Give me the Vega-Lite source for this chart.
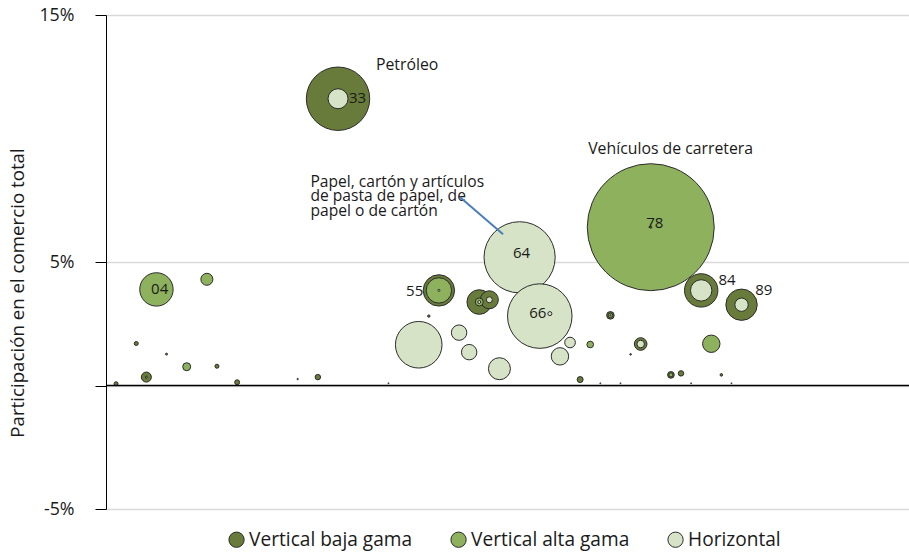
{
  "$schema": "https://vega.github.io/schema/vega-lite/v6.json",
  "width": 803,
  "height": 494,
  "autosize": "none",
  "padding": {"left": 106, "top": 15, "right": 0, "bottom": 45},
  "background": "white",
  "config": {"font": "Open Sans", "view": {"stroke": null}},
  "datasets": {
    "burbujas": [
      {"sector": "00", "tipo": "Vertical baja gama", "orden": 1, "participacion": 0.07, "peso": 0.098},
      {"sector": "02", "tipo": "Vertical baja gama", "orden": 3, "participacion": 1.70, "peso": 0.098},
      {"sector": "03", "tipo": "Vertical baja gama", "orden": 4, "participacion": 0.34, "peso": 0.61},
      {"sector": "03", "tipo": "Vertical alta gama", "orden": 4, "participacion": 0.34, "peso": 0.024},
      {"sector": "04", "tipo": "Vertical alta gama", "orden": 5, "participacion": 3.89, "peso": 6.8},
      {"sector": "05", "tipo": "Vertical baja gama", "orden": 6, "participacion": 1.27, "peso": 0.024},
      {"sector": "07", "tipo": "Vertical alta gama", "orden": 8, "participacion": 0.76, "peso": 0.39},
      {"sector": "09", "tipo": "Vertical alta gama", "orden": 10, "participacion": 4.30, "peso": 0.88},
      {"sector": "11", "tipo": "Vertical baja gama", "orden": 11, "participacion": 0.78, "peso": 0.098},
      {"sector": "21", "tipo": "Vertical baja gama", "orden": 13, "participacion": 0.13, "peso": 0.15},
      {"sector": "28", "tipo": "Vertical baja gama", "orden": 19, "participacion": 0.26, "peso": 0.012},
      {"sector": "32", "tipo": "Vertical baja gama", "orden": 21, "participacion": 0.34, "peso": 0.18},
      {"sector": "33", "tipo": "Vertical baja gama", "orden": 23, "participacion": 11.61, "peso": 24.5},
      {"sector": "33", "tipo": "Horizontal", "orden": 23, "participacion": 11.61, "peso": 2.44},
      {"sector": "43", "tipo": "Vertical baja gama", "orden": 28, "participacion": 0.09, "peso": 0.006},
      {"sector": "53", "tipo": "Horizontal", "orden": 31, "participacion": 1.65, "peso": 13.24},
      {"sector": "54", "tipo": "Vertical baja gama", "orden": 32, "participacion": 2.81, "peso": 0.035},
      {"sector": "55", "tipo": "Vertical baja gama", "orden": 33, "participacion": 3.85, "peso": 6.0},
      {"sector": "55", "tipo": "Vertical alta gama", "orden": 33, "participacion": 3.85, "peso": 3.93},
      {"sector": "55", "tipo": "Horizontal", "orden": 33, "participacion": 3.85, "peso": 0.024},
      {"sector": "57", "tipo": "Horizontal", "orden": 35, "participacion": 2.14, "peso": 1.45},
      {"sector": "58", "tipo": "Horizontal", "orden": 36, "participacion": 1.35, "peso": 1.45},
      {"sector": "59", "tipo": "Vertical baja gama", "orden": 37, "participacion": 3.38, "peso": 3.69},
      {"sector": "59", "tipo": "Vertical alta gama", "orden": 37, "participacion": 3.38, "peso": 0.39},
      {"sector": "59", "tipo": "Horizontal", "orden": 37, "participacion": 3.38, "peso": 0.055},
      {"sector": "61", "tipo": "Vertical baja gama", "orden": 38, "participacion": 3.47, "peso": 1.98},
      {"sector": "61", "tipo": "Horizontal", "orden": 38, "participacion": 3.47, "peso": 0.22},
      {"sector": "62", "tipo": "Horizontal", "orden": 39, "participacion": 0.68, "peso": 2.95},
      {"sector": "64", "tipo": "Horizontal", "orden": 41, "participacion": 5.19, "peso": 30.9},
      {"sector": "66", "tipo": "Horizontal", "orden": 43, "participacion": 2.81, "peso": 25.4},
      {"sector": "67", "tipo": "Horizontal", "orden": 44, "participacion": 2.91, "peso": 0.1},
      {"sector": "68", "tipo": "Horizontal", "orden": 45, "participacion": 1.18, "peso": 1.85},
      {"sector": "69", "tipo": "Horizontal", "orden": 46, "participacion": 1.74, "peso": 0.69},
      {"sector": "71", "tipo": "Vertical baja gama", "orden": 47, "participacion": 0.24, "peso": 0.22},
      {"sector": "72", "tipo": "Vertical alta gama", "orden": 48, "participacion": 1.66, "peso": 0.27},
      {"sector": "73", "tipo": "Vertical baja gama", "orden": 49, "participacion": 0.09, "peso": 0.006},
      {"sector": "74", "tipo": "Vertical baja gama", "orden": 50, "participacion": 2.84, "peso": 0.35},
      {"sector": "74", "tipo": "Vertical alta gama", "orden": 50, "participacion": 2.84, "peso": 0.13},
      {"sector": "74", "tipo": "Horizontal", "orden": 50, "participacion": 2.84, "peso": 0.01},
      {"sector": "75", "tipo": "Vertical baja gama", "orden": 51, "participacion": 0.09, "peso": 0.006},
      {"sector": "76", "tipo": "Vertical baja gama", "orden": 52, "participacion": 1.26, "peso": 0.016},
      {"sector": "77", "tipo": "Vertical baja gama", "orden": 53, "participacion": 1.68, "peso": 0.97},
      {"sector": "77", "tipo": "Horizontal", "orden": 53, "participacion": 1.68, "peso": 0.35},
      {"sector": "78", "tipo": "Vertical alta gama", "orden": 54, "participacion": 6.41, "peso": 98.3},
      {"sector": "78", "tipo": "Vertical baja gama", "orden": 54, "participacion": 6.41, "peso": 0.03},
      {"sector": "81", "tipo": "Vertical baja gama", "orden": 56, "participacion": 0.43, "peso": 0.27},
      {"sector": "81", "tipo": "Vertical alta gama", "orden": 56, "participacion": 0.43, "peso": 0.1},
      {"sector": "82", "tipo": "Vertical baja gama", "orden": 57, "participacion": 0.49, "peso": 0.18},
      {"sector": "83", "tipo": "Vertical baja gama", "orden": 58, "participacion": 0.09, "peso": 0.006},
      {"sector": "84", "tipo": "Vertical baja gama", "orden": 59, "participacion": 3.85, "peso": 6.8},
      {"sector": "84", "tipo": "Horizontal", "orden": 59, "participacion": 3.85, "peso": 2.79},
      {"sector": "85", "tipo": "Vertical alta gama", "orden": 60, "participacion": 1.69, "peso": 1.85},
      {"sector": "87", "tipo": "Vertical baja gama", "orden": 61, "participacion": 0.43, "peso": 0.04},
      {"sector": "88", "tipo": "Vertical baja gama", "orden": 62, "participacion": 0.09, "peso": 0.006},
      {"sector": "89", "tipo": "Vertical baja gama", "orden": 63, "participacion": 3.27, "peso": 6.0},
      {"sector": "89", "tipo": "Horizontal", "orden": 63, "participacion": 3.27, "peso": 1.09}
    ],
    "cero": [{"valor": 0}],
    "codigos": [
      {"texto": "04", "orden": 5.32, "participacion": 3.89},
      {"texto": "33", "orden": 24.93, "participacion": 11.63},
      {"texto": "55", "orden": 30.6, "participacion": 3.83},
      {"texto": "64", "orden": 41.2, "participacion": 5.35},
      {"texto": "66", "orden": 42.8, "participacion": 2.92},
      {"texto": "78", "orden": 54.4, "participacion": 6.58},
      {"texto": "84", "orden": 61.57, "participacion": 4.26},
      {"texto": "89", "orden": 65.21, "participacion": 3.88}
    ],
    "nombres": [
      {"texto": "Petróleo", "orden": 29.85, "participacion": 12.99},
      {"texto": "Vehículos de carretera", "orden": 55.97, "participacion": 9.59}
    ],
    "papel": [
      {"texto": "Papel, cartón y artículos\nde pasta de papel, de\npapel o de cartón", "orden": 20.27, "participacion": 8.24}
    ],
    "flecha": [
      {"orden": 35.07, "participacion": 7.63, "orden2": 39.36, "participacion2": 6.12}
    ]
  },
  "layer": [
    {
      "data": {"name": "burbujas"},
      "mark": {"type": "circle", "opacity": 1, "stroke": "#2b2b2b", "strokeWidth": 1},
      "encoding": {
        "x": {"field": "orden", "type": "quantitative", "scale": {"domain": [0, 79.6], "nice": false, "zero": false}, "axis": null},
        "y": {
          "field": "participacion", "type": "quantitative",
          "scale": {"domain": [-5, 15], "nice": false},
          "axis": {
            "values": [-5, 0, 5, 15],
            "labelExpr": "datum.value == 0 ? '' : datum.value + '%'",
            "domainColor": "#000000",
            "tickColor": "#000000",
            "tickSize": 11,
            "labelFontSize": 17.8,
            "labelPadding": 21,
            "labelColor": "#1a1a1a",
            "gridColor": "#d9d9d9",
            "gridWidth": 1.5,
            "title": "Participación en el comercio total",
            "titleFontSize": 18.7,
            "titleFontWeight": "normal",
            "titleColor": "#1a1a1a",
            "titleBaseline": "middle",
            "titleX": -89,
            "titleY": 277.5
          }
        },
        "size": {"field": "peso", "type": "quantitative", "scale": {"type": "linear", "domain": [0, 100], "range": [0, 16400]}, "legend": null},
        "color": {
          "field": "tipo", "type": "nominal",
          "scale": {"domain": ["Vertical baja gama", "Vertical alta gama", "Horizontal"], "range": ["#687b3a", "#8db15d", "#d7e3c6"]},
          "legend": {
            "orient": "none", "legendX": 121, "legendY": 515, "direction": "horizontal", "title": null,
            "padding": 0, "symbolType": "circle", "symbolSize": 234, "symbolStrokeColor": "#2b2b2b",
            "symbolStrokeWidth": 1, "symbolOpacity": 1, "labelFontSize": 19.1, "labelOffset": 3,
            "labelLimit": 400, "columnPadding": 35, "labelColor": "#1a1a1a"
          }
        },
        "order": {"field": "peso", "type": "quantitative", "sort": "descending"}
      }
    },
    {
      "data": {"name": "cero"},
      "mark": {"type": "rule", "color": "#000000", "strokeWidth": 1.5},
      "encoding": {"y": {"field": "valor", "type": "quantitative"}}
    },
    {
      "data": {"name": "codigos"},
      "mark": {"type": "text", "fontSize": 15, "color": "#1a1a1a", "align": "center", "baseline": "middle"},
      "encoding": {
        "x": {"field": "orden", "type": "quantitative"},
        "y": {"field": "participacion", "type": "quantitative"},
        "text": {"field": "texto", "type": "nominal"}
      }
    },
    {
      "data": {"name": "nombres"},
      "mark": {"type": "text", "fontSize": 15.8, "color": "#1a1a1a", "align": "center", "baseline": "middle"},
      "encoding": {
        "x": {"field": "orden", "type": "quantitative"},
        "y": {"field": "participacion", "type": "quantitative"},
        "text": {"field": "texto", "type": "nominal"}
      }
    },
    {
      "data": {"name": "papel"},
      "mark": {"type": "text", "fontSize": 15.6, "color": "#1a1a1a", "align": "left", "baseline": "middle", "lineBreak": "\n", "lineHeight": 14.4},
      "encoding": {
        "x": {"field": "orden", "type": "quantitative"},
        "y": {"field": "participacion", "type": "quantitative"},
        "text": {"field": "texto", "type": "nominal"}
      }
    },
    {
      "data": {"name": "flecha"},
      "mark": {"type": "rule", "color": "#4a7ebb", "strokeWidth": 2},
      "encoding": {
        "x": {"field": "orden", "type": "quantitative"},
        "y": {"field": "participacion", "type": "quantitative"},
        "x2": {"field": "orden2"},
        "y2": {"field": "participacion2"}
      }
    }
  ]
}
